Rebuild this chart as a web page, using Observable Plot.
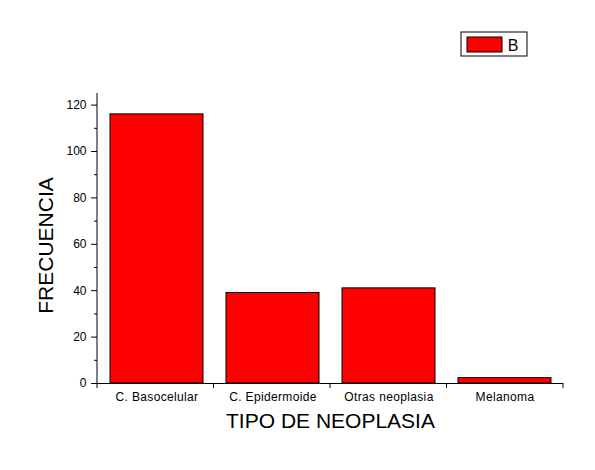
<!DOCTYPE html>
<html>
<head>
<meta charset="utf-8">
<script src="https://cdn.jsdelivr.net/npm/d3@7"></script>
<script src="https://cdn.jsdelivr.net/npm/@observablehq/plot@0.6"></script>
<style>
  html, body { margin: 0; padding: 0; background: #fff; }
  #chart svg { display: block; }
</style>
</head>
<body>
<div id="chart"></div>
<script>
// ---- data ----
const categories = ["C. Basocelular", "C. Epidermoide", "Otras neoplasia", "Melanoma"];
const frecuencia = [116, 39, 41, 2.3];
const majorTicks = [0, 20, 40, 60, 80, 100, 120];
const minorTicks = [10, 30, 50, 70, 90, 110];
const yDomain = [0, 125];
const seriesName = "B";
const xTitle = "TIPO DE NEOPLASIA";
const yTitle = "FRECUENCIA";

const data = categories.map((c, i) => ({cat: c, value: frecuencia[i]}));

const W = 595, H = 470;
const font = "'Liberation Sans', Arial, Helvetica, sans-serif";

const plot = Plot.plot({
  width: W,
  height: H,
  marginLeft: 97,
  marginRight: 32,
  marginTop: 93,
  marginBottom: 87,
  style: {fontFamily: font, fontSize: "12px", background: "#fff", color: "#000", overflow: "visible"},
  x: {domain: categories, paddingInner: 0.2, paddingOuter: 0.1, label: null},
  y: {domain: yDomain, label: null},
  marks: [
    Plot.barY(data, {x: "cat", y: "value", fill: "#FF0000", stroke: "#000", strokeWidth: 1}),
    Plot.ruleY([0], {stroke: "#000", strokeWidth: 1}),
    Plot.axisY({ticks: majorTicks, tickSize: 6, tickPadding: 5, label: null, tickFormat: d => String(d), fontSize: 12}),
    Plot.axisY({ticks: minorTicks, tickSize: 3, label: null, tickFormat: () => ""}),
    Plot.axisX({tickSize: 0, tickPadding: 9, label: null, fontSize: 12}),
    Plot.text([xTitle], {frameAnchor: "bottom", dy: 44, fontSize: 21, fill: "#000"}),
    Plot.text([yTitle], {frameAnchor: "left", textAnchor: "middle", rotate: -90, dx: -51, dy: 7, fontSize: 21, fill: "#000"})
  ]
});

document.getElementById("chart").appendChild(plot);

// x tick labels in the reference are slightly spaced out
d3.select(plot).selectAll("[aria-label='x-axis tick label'] text").attr("letter-spacing", "0.35px");

// ---- axis line and boundary ticks, from the plot's own scales ----
const svg = d3.select(plot);
const xs = plot.scale("x");
const ys = plot.scale("y");
const [x0, x1] = xs.range;
const yBase = ys.apply(0);
const yTop = ys.apply(yDomain[1]);
const step = (x1 - x0) / categories.length;
const g = svg.append("g").attr("stroke", "#000").attr("stroke-width", 1);
g.append("line").attr("x1", x0).attr("x2", x0).attr("y1", yTop).attr("y2", yBase);
d3.range(categories.length + 1).forEach(i => {
  const x = x0 + i * step;
  g.append("line").attr("x1", x).attr("x2", x).attr("y1", yBase).attr("y2", yBase + 5);
});

// ---- legend ----
const lg = svg.append("g").attr("transform", "translate(461,32)");
lg.append("rect").attr("width", 66).attr("height", 24).attr("fill", "#fff").attr("stroke", "#000").attr("stroke-width", 1);
lg.append("rect").attr("x", 6).attr("y", 5).attr("width", 35).attr("height", 15).attr("fill", "#FF0000").attr("stroke", "#000").attr("stroke-width", 1);
lg.append("text").attr("x", 52).attr("y", 19).attr("font-family", font).attr("font-size", 16).attr("fill", "#000").text(seriesName);
</script>
</body>
</html>
